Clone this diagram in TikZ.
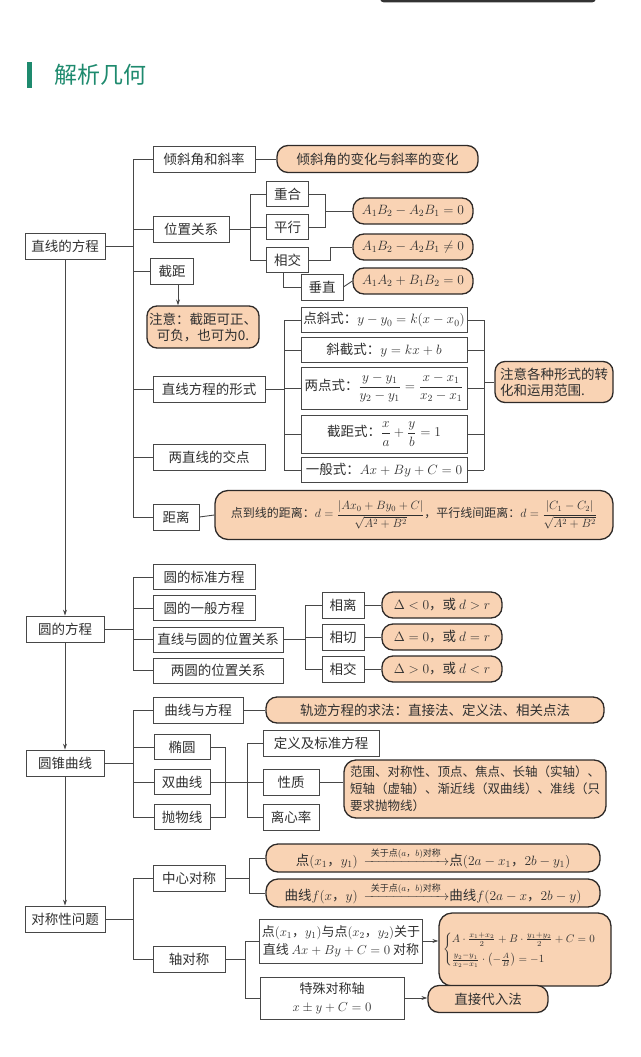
\RequirePackage{fix-cm}
\documentclass[tikz,border=0pt]{standalone}
\usepackage{amsmath}
\usepackage{fontspec}
\setmainfont{Noto Sans CJK SC}
\usetikzlibrary{arrows.meta}
\definecolor{titlec}{HTML}{1E8A6E}
\definecolor{notefill}{HTML}{F9D3B4}
\definecolor{notedraw}{HTML}{2E2A28}
\definecolor{linec}{HTML}{474747}
\definecolor{textc}{HTML}{303030}

\begin{document}
\begin{tikzpicture}[x=1pt, y=-1pt, >={Stealth[length=6pt,width=4pt]},
  box/.style={draw=linec, line width=0.8pt, fill=white, text=textc, inner sep=2pt,
    minimum height=26pt, font=\fontsize{13.5}{16}\selectfont},
  notebox/.style={draw=notedraw, line width=1.3pt, fill=notefill, text=textc, inner sep=2pt,
    rounded corners=11pt, minimum height=26pt, font=\fontsize{13.5}{16}\selectfont},
  link/.style={draw=linec, line width=0.9pt}]
\useasboundingbox (0,0) rectangle (640,1057);

% ==================== 标题 ====================
\fill[black!80, rounded corners=4pt] (380,-12) rectangle (596,2.5);
\fill[titlec] (27,62) rectangle (32,88);
\node[anchor=west, text=titlec, inner sep=0pt, font=\fontsize{23}{26}\selectfont] (title) at (54,75) {解析几何};

% 主干
\coordinate (zg) at (133,0);

% ==================== 直线的方程 ====================
\node[box, minimum width=80pt] (zx) at (65,246) {直线的方程};
\node[box, minimum width=102pt] (qx) at (204,159) {倾斜角和斜率};
\node[notebox, minimum width=201pt, minimum height=27pt] (qxn) at (377.5,159) {倾斜角的变化与斜率的变化};
\node[box, minimum width=76pt] (wz) at (191,229) {位置关系};
\node[box, minimum width=42pt, minimum height=25pt] (chonghe) at (287.5,194) {重合};
\node[box, minimum width=42pt, minimum height=25pt] (pingxing) at (287.5,227) {平行};
\node[box, minimum width=42pt, minimum height=25pt] (xiangjiao) at (287.5,260) {相交};
\node[box, minimum width=42pt] (chuizhi) at (322,287) {垂直};
\node[notebox, minimum width=120pt] (wzn1) at (413,211) {$A_1B_2-A_2B_1=0$};
\node[notebox, minimum width=120pt] (wzn2) at (413,247) {$A_1B_2-A_2B_1\neq0$};
\node[notebox, minimum width=120pt] (wzn3) at (413,281) {$A_1A_2+B_1B_2=0$};
\node[box, minimum width=43pt] (jj) at (172,271) {截距};
\node[notebox, minimum width=112pt, minimum height=42pt, rounded corners=10pt, align=center] (jjn) at (203,327) {注意：截距可正、\\可负，也可为0.};
\node[box, minimum width=112pt] (xs) at (209,389) {直线方程的形式};
\node[box, minimum width=166pt, minimum height=25pt] (xs1) at (384,320) {点斜式：$y-y_0=k(x-x_0)$};
\node[box, minimum width=166pt, minimum height=25pt] (xs2) at (384,350) {斜截式：$y=kx+b$};
\node[box, minimum width=166pt, minimum height=42pt] (xs3) at (384,388) {两点式：$\dfrac{y-y_1}{y_2-y_1}=\dfrac{x-x_1}{x_2-x_1}$};
\node[box, minimum width=166pt, minimum height=38pt] (xs4) at (384,434) {截距式：$\dfrac{x}{a}+\dfrac{y}{b}=1$};
\node[box, minimum width=166pt, minimum height=25pt] (xs5) at (384,470) {一般式：$Ax+By+C=0$};
\node[notebox, minimum width=118pt, minimum height=41pt, rounded corners=10pt, align=left] (xsn) at (554,382) {注意各种形式的转\\化和运用范围.};
\node[box, minimum width=112pt] (jd) at (209,457) {两直线的交点};
\node[box, minimum width=46pt] (jl) at (176,517) {距离};
\node[notebox, minimum width=398pt, minimum height=49pt, rounded corners=13pt, font=\fontsize{12}{14}\selectfont] (jln) at (414,515)
  {点到线的距离：$d=\dfrac{|Ax_0+By_0+C|}{\sqrt{A^2+B^2}}$，平行线间距离：$d=\dfrac{|C_1-C_2|}{\sqrt{A^2+B^2}}$};

% 连线
\coordinate (wzg) at (250,0);
\coordinate (chk) at (325,0);
\coordinate (xsz) at (284,0);
\coordinate (xsy) at (484,0);
\draw[link] (zx.east) -- (zx.east -| zg);
\draw[link] (zg |- qx.west) -- (zg |- jl.west);
\draw[link] (zg |- qx.west) -- (qx.west);
\draw[link] (zg |- wz.west) -- (wz.west);
\draw[link] (zg |- jj.west) -- (jj.west);
\draw[link] (zg |- xs.west) -- (xs.west);
\draw[link] (zg |- jd.west) -- (jd.west);
\draw[link] (zg |- jl.west) -- (jl.west);
\draw[link] (qx.east) -- (qxn.west);
\draw[link] (wz.east) -- (wz.east -| wzg);
\draw[link] (wzg |- chonghe.west) -- (wzg |- xiangjiao.west);
\draw[link] (wzg |- chonghe.west) -- (chonghe.west);
\draw[link] (wzg |- pingxing.west) -- (pingxing.west);
\draw[link] (wzg |- xiangjiao.west) -- (xiangjiao.west);
\draw[link] (chonghe.east) -- (chonghe.east -| chk) -- (chk |- pingxing.east) -- (pingxing.east);
\draw[link] (chk |- wzn1.west) -- (wzn1.west);
\draw[link] (xiangjiao.east) -- ++(22,0) |- (wzn2.west);
\draw[link] ([xshift=-4pt]xiangjiao.south) |- (chuizhi.west);
\draw[link] (chuizhi.east) -- (wzn3.west);
\draw[link, ->] ([xshift=6pt]jj.south) -- ([xshift=6pt]jj.south |- jjn.north);
\draw[link] (xs.east) -- (xs.east -| xsz);
\draw[link] (xsz |- xs1.west) -- (xsz |- xs5.west);
\draw[link] (xsy |- xs1.east) -- (xsy |- xs5.east);
\draw[link] (xsz |- xs1.west) -- (xs1.west);
\draw[link] (xsz |- xs2.west) -- (xs2.west);
\draw[link] (xsz |- xs3.west) -- (xs3.west);
\draw[link] (xsz |- xs4.west) -- (xs4.west);
\draw[link] (xsz |- xs5.west) -- (xs5.west);
\draw[link] (xs1.east) -- (xsy |- xs1.east);
\draw[link] (xs2.east) -- (xsy |- xs2.east);
\draw[link] (xs3.east) -- (xsy |- xs3.east);
\draw[link] (xs4.east) -- (xsy |- xs4.east);
\draw[link] (xs5.east) -- (xsy |- xs5.east);
\draw[link] (xsy |- xsn.west) -- (xsn.west);
\draw[link] (jl.east) -- (jln.west);

% ==================== 圆的方程 ====================
\node[box, minimum width=78pt] (yf) at (65,629) {圆的方程};
\node[box, minimum width=102pt, minimum height=25pt] (yf1) at (204,577) {圆的标准方程};
\node[box, minimum width=102pt, minimum height=25pt] (yf2) at (204,608) {圆的一般方程};
\node[box, minimum width=130pt, minimum height=25pt] (yf3) at (218,639.5) {直线与圆的位置关系};
\node[box, minimum width=130pt, minimum height=25pt] (yf4) at (218,670.5) {两圆的位置关系};
\node[box, minimum width=42pt] (xl) at (343,605) {相离};
\node[box, minimum width=42pt] (xq) at (343,637) {相切};
\node[box, minimum width=42pt] (xj) at (343,669) {相交};
\node[notebox, minimum width=120pt] (xln) at (442,605) {$\Delta<0$，或 $d>r$};
\node[notebox, minimum width=120pt] (xqn) at (442,637) {$\Delta=0$，或 $d=r$};
\node[notebox, minimum width=120pt] (xjn) at (442,669) {$\Delta>0$，或 $d<r$};

\coordinate (yfg) at (305,0);
\draw[link] (yf.east) -- (yf.east -| zg);
\draw[link] (zg |- yf1.west) -- (zg |- yf4.west);
\draw[link] (zg |- yf1.west) -- (yf1.west);
\draw[link] (zg |- yf2.west) -- (yf2.west);
\draw[link] (zg |- yf3.west) -- (yf3.west);
\draw[link] (zg |- yf4.west) -- (yf4.west);
\draw[link] (yf3.east) -- (yf3.east -| yfg);
\draw[link] (yfg |- xl.west) -- (yfg |- xj.west);
\draw[link] (yfg |- xl.west) -- (xl.west);
\draw[link] (yfg |- xq.west) -- (xq.west);
\draw[link] (yfg |- xj.west) -- (xj.west);
\draw[link] (xl.east) -- (xln.west);
\draw[link] (xq.east) -- (xqn.west);
\draw[link] (xj.east) -- (xjn.west);

% ==================== 圆锥曲线 ====================
\node[box, minimum width=78pt] (zq) at (65,763) {圆锥曲线};
\node[box, minimum width=90pt] (qf) at (198,710) {曲线与方程};
\node[notebox, minimum width=338pt] (qfn) at (435,710) {轨迹方程的求法：直接法、定义法、相关点法};
\node[box, minimum width=56pt, minimum height=25pt] (ty) at (182,747) {椭圆};
\node[box, minimum width=56pt, minimum height=25pt] (sq) at (182,782) {双曲线};
\node[box, minimum width=56pt, minimum height=25pt] (pw) at (182,817) {抛物线};
\node[box, minimum width=116pt] (dy) at (321,743) {定义及标准方程};
\node[box, minimum width=56pt] (xz) at (291,782) {性质};
\node[box, minimum width=56pt] (lx) at (291,817) {离心率};
\node[notebox, minimum width=262pt, minimum height=58pt, rounded corners=12pt, align=left, font=\fontsize{12.5}{17}\selectfont] (xzn) at (475,789)
  {范围、对称性、顶点、焦点、长轴（实轴）、\\短轴（虚轴）、渐近线（双曲线）、准线（只\\要求抛物线）};

\coordinate (qxk) at (225,0);
\coordinate (qxg) at (247,0);
\draw[link] (zq.east) -- (zq.east -| zg);
\draw[link] (zg |- qf.west) -- (zg |- pw.west);
\draw[link] (zg |- qf.west) -- (qf.west);
\draw[link] (zg |- ty.west) -- (ty.west);
\draw[link] (zg |- sq.west) -- (sq.west);
\draw[link] (zg |- pw.west) -- (pw.west);
\draw[link] (qf.east) -- (qfn.west);
\draw[link] (ty.east) -- (ty.east -| qxk) -- (qxk |- pw.east) -- (pw.east);
\draw[link] (sq.east) -- (sq.east -| qxg);
\draw[link] (qxg |- dy.west) -- (qxg |- lx.west);
\draw[link] (qxg |- dy.west) -- (dy.west);
\draw[link] (qxg |- xz.west) -- (xz.west);
\draw[link] (qxg |- lx.west) -- (lx.west);
\draw[link] (xz.east) -- (xz.east -| xzn.west);

% ==================== 对称性问题 ====================
\node[box, minimum width=80pt] (dc) at (65,919) {对称性问题};
\node[box, minimum width=72pt] (zx1) at (189,878) {中心对称};
\node[box, minimum width=72pt] (zd) at (189,959) {轴对称};
\node[notebox, minimum width=334pt, minimum height=28pt, rounded corners=12pt] (zxn1) at (433,858)
  {点$(x_1$，$y_1)$\ \ $\xrightarrow{\hspace{4pt}\text{\fontsize{9}{10}\selectfont 关于点$(a$，$b)$对称}\hspace{4pt}}$点$(2a-x_1$，$2b-y_1)$};
\node[notebox, minimum width=334pt, minimum height=28pt, rounded corners=12pt] (zxn2) at (433,893)
  {曲线$f(x$，$y)$\ \ $\xrightarrow{\hspace{4pt}\text{\fontsize{9}{10}\selectfont 关于点$(a$，$b)$对称}\hspace{4pt}}$曲线$f(2a-x$，$2b-y)$};
\node[box, minimum width=162pt, minimum height=44pt, align=center, font=\fontsize{13}{18}\selectfont] (zd1) at (341,941)
  {点$(x_1$，$y_1)$与点$(x_2$，$y_2)$关于\\直线 $Ax+By+C=0$ 对称};
\node[notebox, minimum width=172pt, minimum height=73pt, rounded corners=13pt, inner sep=1pt, font=\fontsize{11}{13}\selectfont] (zd1n) at (525,949.5)
  {$\begin{cases} A\cdot\frac{x_1+x_2}{2}+B\cdot\frac{y_1+y_2}{2}+C=0\\[5pt] \frac{y_2-y_1}{x_2-x_1}\cdot\left(-\frac{A}{B}\right)=-1\end{cases}$};
\node[box, minimum width=144pt, minimum height=42pt, align=center, font=\fontsize{13}{18}\selectfont] (zd2) at (332,998)
  {特殊对称轴\\$x\pm y+C=0$};
\node[notebox, minimum width=120pt, minimum height=27pt] (zd2n) at (488,999) {直接代入法};

\coordinate (zxg) at (249,0);
\coordinate (zdg) at (245,0);
\draw[link] (dc.east) -- (dc.east -| zg);
\draw[link] (zg |- zx1.west) -- (zg |- zd.west);
\draw[link] (zg |- zx1.west) -- (zx1.west);
\draw[link] (zg |- zd.west) -- (zd.west);
\draw[link] (zx1.east) -- (zx1.east -| zxg);
\draw[link] (zxg |- zxn1.west) -- (zxg |- zxn2.west);
\draw[link] (zxg |- zxn1.west) -- (zxn1.west);
\draw[link] (zxg |- zxn2.west) -- (zxn2.west);
\draw[link] (zd.east) -- (zd.east -| zdg);
\draw[link] (zdg |- zd1.west) -- (zdg |- zd2.west);
\draw[link] (zdg |- zd1.west) -- (zd1.west);
\draw[link] (zdg |- zd2.west) -- (zd2.west);
\draw[link, ->] (zd1.east) -- (zd1.east -| zd1n.west);
\draw[link, ->] (zd2.east) -- (zd2.east -| zd2n.west);

% ==================== 主线箭头 ====================
\draw[link, ->] (zx.south) -- (yf.north);
\draw[link, ->] (yf.south) -- (zq.north);
\draw[link, ->] (zq.south) -- (dc.north);
\end{tikzpicture}
\end{document}
